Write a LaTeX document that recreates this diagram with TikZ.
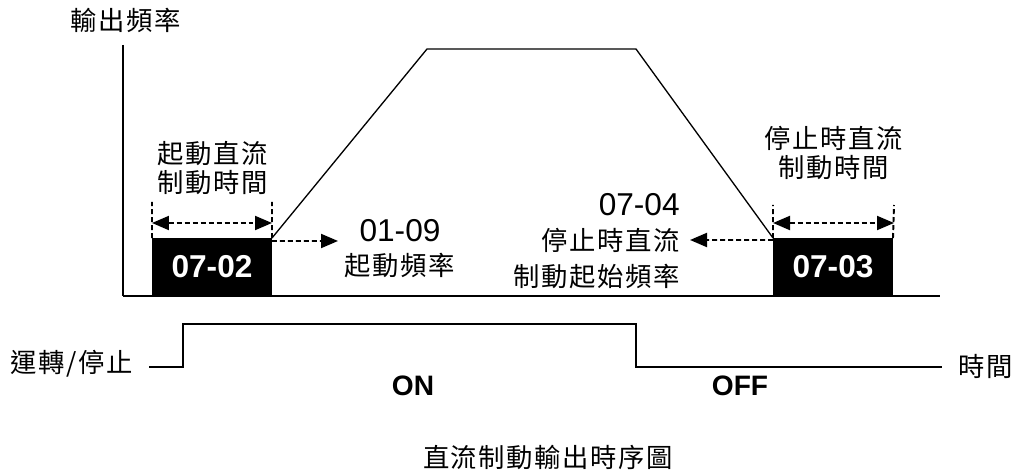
\documentclass[tikz,border=0pt]{standalone}
\usepackage{fontspec}
\setmainfont{Liberation Sans}
\newfontfamily\cjk[LetterSpace=6]{Noto Sans CJK TC}
\usetikzlibrary{arrows.meta}

\tikzset{
	cjklabel/.style={font=\cjk\fontsize{15}{15.5}\selectfont, align=center, inner sep=0pt},
	parambox/.style={fill=black, text=white, font=\bfseries\fontsize{18}{20}\selectfont,
		minimum width=2.4cm, minimum height=1.16cm, inner sep=0pt, outer sep=0pt},
	dimline/.style={line width=1.1pt, dash pattern=on 1mm off 0.6mm},
	tip/.style={-{Triangle[length=3.4mm,width=2.8mm]}},
	bothtips/.style={{Triangle[length=3.4mm,width=2.8mm]}-{Triangle[length=3.4mm,width=2.8mm]}},
}

\begin{document}
\begin{tikzpicture}[x=0.02cm, y=0.02cm]
		\useasboundingbox (0,0) rectangle (1017,473);

		% braking blocks
		\node[parambox] (p0702) at (212,206) {07-02};
		\node[parambox] (p0703) at (833,206) {07-03};

		% axes
		\coordinate (ytop) at (123,428);
		\coordinate (origin) at (123,177);
		\coordinate (tend) at (940,177);
		\draw[line width=1.4pt] (ytop) -- (origin);
		\draw[line width=1.7pt] (origin) -- (tend);
		\node[cjklabel] (fout) at (126,453) {輸出頻率};

		% output frequency
		\coordinate (peakL) at (427,424);
		\coordinate (peakR) at (636,424);
		\draw[line width=0.75pt] (p0702.north east) -- (peakL) -- (peakR) -- (p0703.north west);

		% braking times
		\coordinate (t1) at (152,271);
		\coordinate (t2) at (272,271);
		\coordinate (t3) at (773,268);
		\coordinate (t4) at (894,268);
		\draw[dimline] (p0702.north west) -- (t1);
		\draw[dimline] (p0702.north east) -- (t2);
		\draw[dimline] (p0703.north west) -- (t3);
		\draw[dimline] (p0703.north east) -- (t4);
		\draw[dimline, bothtips] (152,250) -- (272,250);
		\draw[dimline, bothtips] (773,250) -- (894,250);
		\node[cjklabel, font=\cjk\fontsize{15}{16}\selectfont] (startlbl) at (213,305) {起動直流\\制動時間};
		\node[cjklabel, font=\cjk\fontsize{15}{17}\selectfont] (stoplbl) at (834,320) {停止時直流\\制動時間};

		% start / stop frequencies
		\coordinate (e1) at (338,232);
		\coordinate (e2) at (690,233);
		\draw[dimline, tip] ([yshift=-0.06cm]p0702.north east) -- (e1);
		\draw[dimline, tip] ([yshift=-0.04cm]p0703.north west) -- (e2);
		\node[cjklabel, font=\fontsize{18}{19.3}\selectfont] (f0109) at (400,224) {01-09\\\cjk\fontsize{15}{19.3}\selectfont 起動頻率};
		\node[cjklabel, anchor=east, align=right, font=\fontsize{18}{20.4}\selectfont] (f0704) at (680,232)
			{07-04\\\cjk\fontsize{15}{20.4}\selectfont 停止時直流\\\cjk\fontsize{15}{20.4}\selectfont 制動起始頻率};

		% run / stop command
		\coordinate (r0) at (149,106);
		\coordinate (r1) at (183,149);
		\coordinate (r2) at (636,106);
		\coordinate (r3) at (942,106);
		\draw[line width=0.85pt] (r0) -| (r1) -| (r2) -- (r3);
		\node[cjklabel] (runstop) at (72,109) {運轉/停止};
		\node[cjklabel] (time) at (986,107) {時間};
		\node[font=\bfseries\fontsize{16}{18}\selectfont] (on) at (413,87) {ON};
		\node[font=\bfseries\fontsize{16}{18}\selectfont] (off) at (740,87) {OFF};

		\node[cjklabel] (title) at (548,16) {直流制動輸出時序圖};
	\end{tikzpicture}
\end{document}
